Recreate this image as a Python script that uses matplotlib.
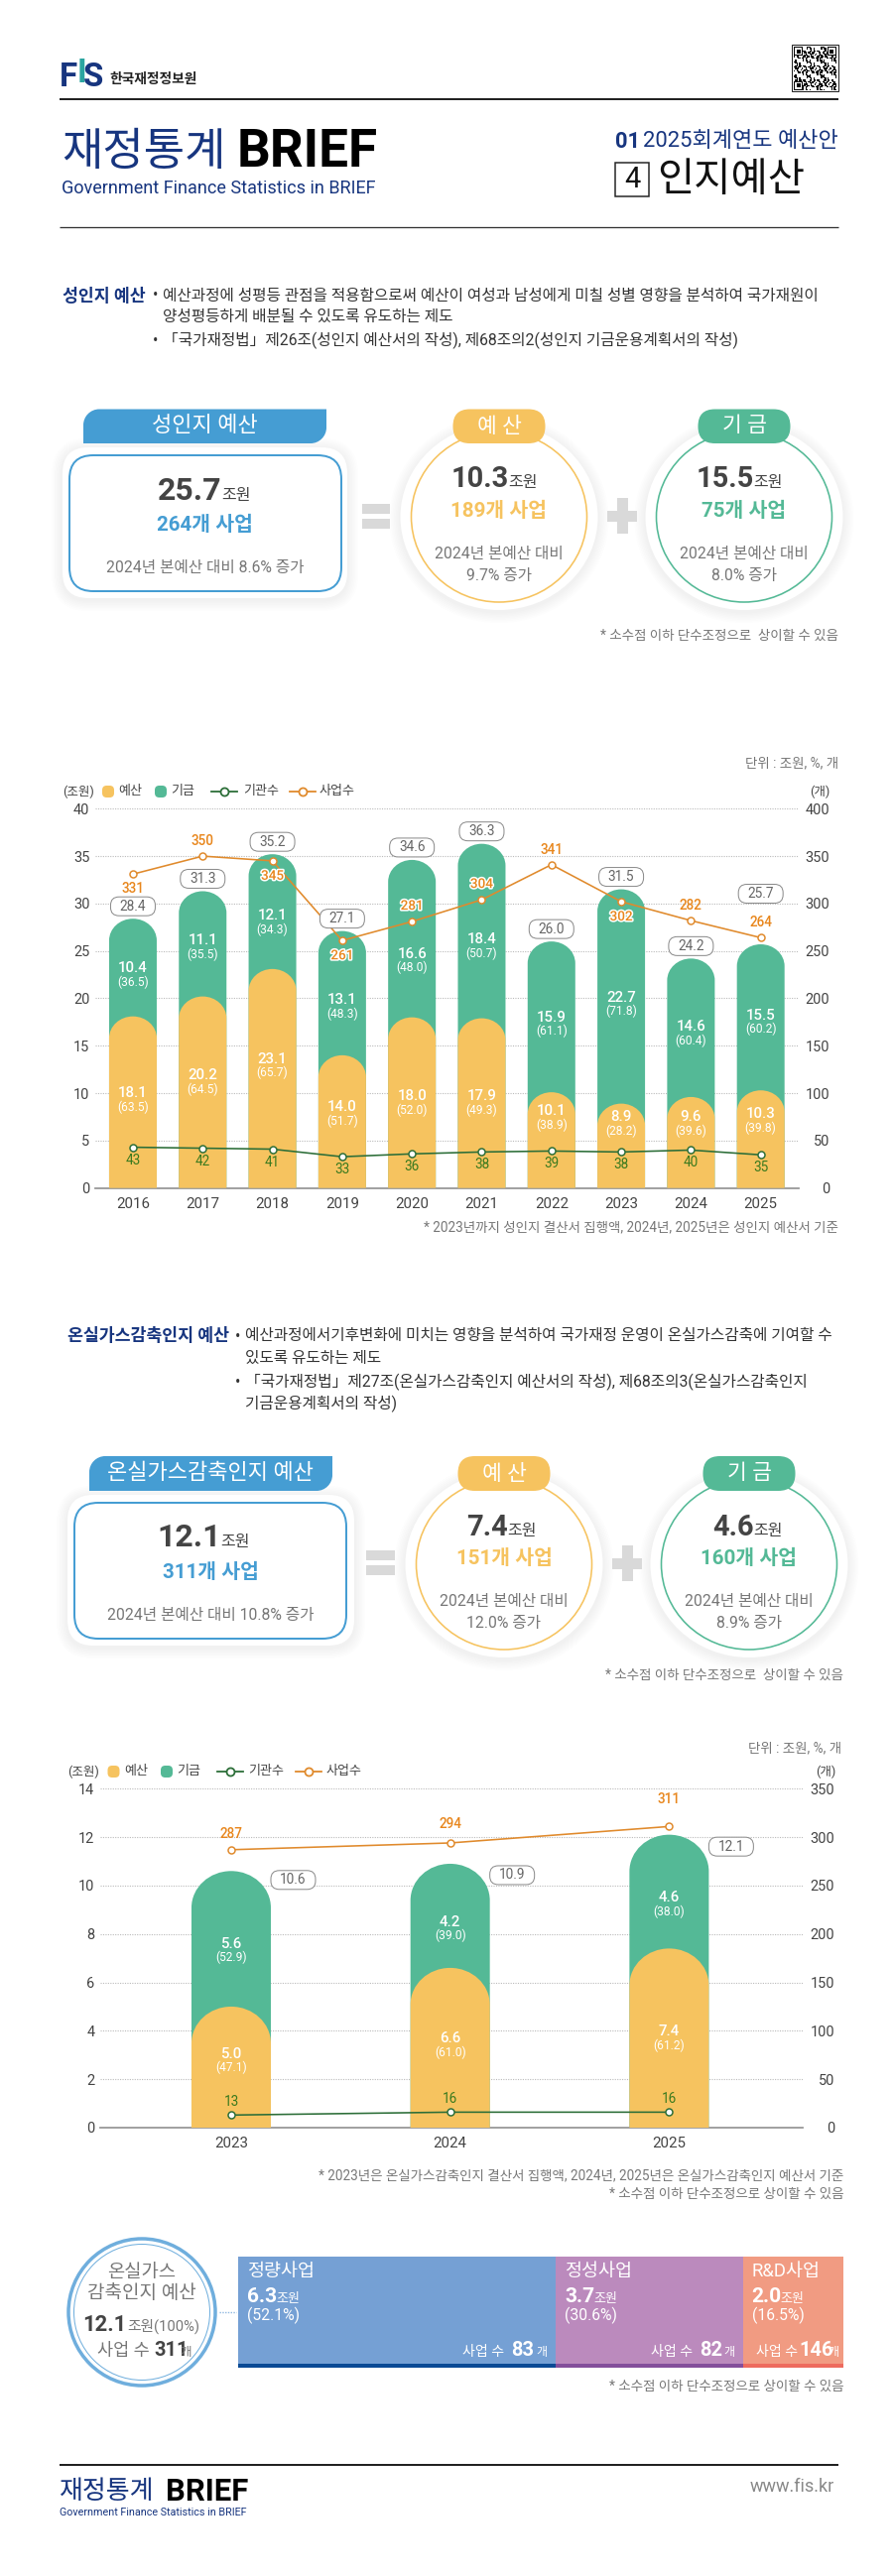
import matplotlib
matplotlib.use('Agg')
import matplotlib.pyplot as plt
import matplotlib.patheffects as pe
from matplotlib.patches import Ellipse, FancyBboxPatch, PathPatch, Rectangle
from matplotlib.path import Path
import numpy as np

plt.rcParams['font.family'] = ['Roboto', 'Noto Sans CJK KR', 'DejaVu Sans']

# 성인지 예산 차트
years_a = ['2016', '2017', '2018', '2019', '2020', '2021', '2022', '2023', '2024', '2025']
budget_a = [18.1, 20.2, 23.1, 14.0, 18.0, 17.9, 10.1, 8.9, 9.6, 10.3]
fund_a = [10.4, 11.1, 12.1, 13.1, 16.6, 18.4, 15.9, 22.7, 14.6, 15.5]
total_a = [28.4, 31.3, 35.2, 27.1, 34.6, 36.3, 26.0, 31.5, 24.2, 25.7]
budget_pct_a = [63.5, 64.5, 65.7, 51.7, 52.0, 49.3, 38.9, 28.2, 39.6, 39.8]
fund_pct_a = [36.5, 35.5, 34.3, 48.3, 48.0, 50.7, 61.1, 71.8, 60.4, 60.2]
agency_a = [43, 42, 41, 33, 36, 38, 39, 38, 40, 35]
project_a = [331, 350, 345, 261, 281, 304, 341, 302, 282, 264]

# 온실가스감축인지 예산 차트
years_b = ['2023', '2024', '2025']
budget_b = [5.0, 6.6, 7.4]
fund_b = [5.6, 4.2, 4.6]
total_b = [10.6, 10.9, 12.1]
budget_pct_b = [47.1, 61.0, 61.2]
fund_pct_b = [52.9, 39.0, 38.0]
agency_b = [13, 16, 16]
project_b = [287, 294, 311]

# 사업 유형별 구성
split_names = ['정량사업', '정성사업', 'R&D사업']
split_amount = [6.3, 3.7, 2.0]
split_pct = [52.1, 30.6, 16.5]
split_projects = [83, 82, 146]

# 라벨 위치 (데이터 단위, 픽셀 오프셋)
budget_label_a = [10.0, 11.9, 13.6, 8.5, 9.7, 9.7, 8.1, 7.5, 7.5, 7.8]
fund_label_a = [23.2, 26.1, 28.7, 19.8, 24.7, 26.2, 18.0, 20.1, 17.0, 18.2]
project_off_a = [-15, 15, -15, -15, 16, 16, 15, -15, 15, 15]
project_halo_a = [False, False, True, True, True, True, False, True, False, False]
pill_off_a = [(0, -12.5)] * 9 + [(0, -51)]
budget_label_b = [3.04, 3.69, 3.97]
fund_label_b = [7.6, 8.5, 9.5]
project_off_b = [16, 19, 27]
pill_off_b = [(62.5, 9), (62.5, 11.5), (62.5, 12)]

W, H = 900, 2597
YELLOW = '#F6C35F'
GREEN = '#54B996'
BLUE = '#459DD3'
ORANGE = '#E08A2C'
ORANGE_TXT = '#E8861C'
DGREEN = '#2C6E38'
DGREEN_TXT = '#3B7A1E'
NAVY = '#17357F'
DARK = '#444444'
GREY = '#777777'


def fs(px):
    return px * 0.72


fig = plt.figure(figsize=(W / 100, H / 100), dpi=100, facecolor='white')
page = fig.add_axes([0, 0, 1, 1], zorder=0)
top = fig.add_axes([0, 0, 1, 1], zorder=10)
for a in (page, top):
    a.set_xlim(0, W)
    a.set_ylim(H, 0)
    a.axis('off')
    a.patch.set_alpha(0)


def txt(x, y, s, size, color=DARK, ha='left', va='center', weight='normal', ax=top, **kw):
    return ax.text(x, y, s, fontsize=fs(size), color=color, ha=ha, va=va, fontweight=weight, **kw)


def to_px(ax, x, y):
    return top.transData.inverted().transform(ax.transData.transform((x, y)))


def hline(x0, x1, y, color, lw):
    page.plot([x0, x1], [y, y], color=color, lw=lw * 0.72, solid_capstyle='butt')


def soft_shadow(make, n=7):
    for i in range(n, 0, -1):
        page.add_patch(make(i * 1.6, dict(fc='#000000', ec='none', alpha=0.007)))


def tab(x0, y0, x1, y1, r, color):
    # 왼쪽 위, 오른쪽 아래만 둥근 라벨
    k = r * 0.45
    verts = [(x0, y1), (x0, y0 + r), (x0, y0 + k), (x0 + k, y0), (x0 + r, y0), (x1, y0), (x1, y1 - r),
             (x1, y1 - k), (x1 - k, y1), (x1 - r, y1), (x0, y1)]
    codes = [Path.MOVETO, Path.LINETO, Path.CURVE4, Path.CURVE4, Path.CURVE4, Path.LINETO, Path.LINETO,
             Path.CURVE4, Path.CURVE4, Path.CURVE4, Path.CLOSEPOLY]
    page.add_patch(PathPatch(Path(verts, codes), fc=color, ec='none', zorder=4))


def round_box(x0, y0, x1, y1, r, **kw):
    return FancyBboxPatch((x0 + r, y0 + r), x1 - x0 - 2 * r, y1 - y0 - 2 * r,
                          boxstyle='round,pad=%f,rounding_size=%f' % (r, r), **kw)


def summary_card(box, inner, tab_box, tab_label, amount, am_x, am_base, count, count_y, line_y, note, note_y):
    def shadow(grow, st):
        return round_box(box[0] - grow, box[1] - grow + 2, box[2] + grow, box[3] + grow + 2, 26 + grow, **st)
    soft_shadow(shadow)
    page.add_patch(round_box(*box, 26, fc='white', ec='none', zorder=2))
    page.add_patch(round_box(*inner, 24, fc='white', ec=BLUE, lw=fs(2), zorder=3))
    tab(*tab_box, 16, BLUE)
    txt((tab_box[0] + tab_box[2]) / 2, (tab_box[1] + tab_box[3]) / 2, tab_label, 22, 'white', ha='center')
    txt(am_x, am_base, amount, 32, DARK, ha='right', va='baseline', weight='bold')
    txt(am_x - 1, am_base, '조원', 16, DARK, va='baseline')
    txt((inner[0] + inner[2]) / 2, count_y, count, 20.5, BLUE, ha='center', weight='bold')
    hline(inner[0] + 9, inner[2] - 9, line_y, '#AAAAAA', 1.2)
    txt((inner[0] + inner[2]) / 2, note_y, note, 15.7, GREY, ha='center')


def summary_oval(cx, cy, w, h, color, tab_y, tab_label, amount, am_x, am_base, count, count_y, line_y, notes, note_y):
    def shadow(grow, st):
        return Ellipse((cx, cy + 2), w + 22 + grow * 2, h + 16 + grow * 2, **st)
    soft_shadow(shadow)
    page.add_patch(Ellipse((cx, cy), w + 22, h + 16, fc='white', ec='none', zorder=2))
    page.add_patch(Ellipse((cx, cy), w, h, fc='white', ec=color, lw=fs(1.6), zorder=3))
    page.add_patch(round_box(cx - 46.5, tab_y[0], cx + 46.5, tab_y[1], 17, fc=color, ec='none', zorder=4))
    txt(cx, sum(tab_y) / 2, tab_label, 21.5, 'white', ha='center')
    txt(am_x, am_base, amount, 29, DARK, ha='right', va='baseline', weight='bold')
    txt(am_x - 1, am_base, '조원', 16, DARK, va='baseline')
    txt(cx, count_y, count, 20.5, color, ha='center', weight='bold')
    hline(cx - 70, cx + 70, line_y, '#AAAAAA', 1.2)
    for i, n in enumerate(notes):
        txt(cx, note_y[i], n, 15.7, GREY, ha='center')


def eq_plus(eq_x, eq_y, plus_c):
    c = '#D9D9D9'
    page.add_patch(Rectangle((eq_x[0], eq_y[0]), eq_x[1] - eq_x[0], 10, fc=c, ec='none'))
    page.add_patch(Rectangle((eq_x[0], eq_y[1]), eq_x[1] - eq_x[0], 10, fc=c, ec='none'))
    page.add_patch(Rectangle((plus_c[0] - 15, plus_c[1] - 5.5), 30, 11, fc=c, ec='none'))
    page.add_patch(Rectangle((plus_c[0] - 5.5, plus_c[1] - 18), 11, 36, fc=c, ec='none'))


def round_bar(ax, x, value, width, ry, color, zorder):
    x0, x1 = x - width / 2, x + width / 2
    shoulder = value - ry
    k = 0.5523
    verts = [(x0, 0), (x0, shoulder), (x0, shoulder + ry * k), (x - width / 2 * k, value), (x, value),
             (x + width / 2 * k, value), (x1, shoulder + ry * k), (x1, shoulder), (x1, 0), (x0, 0)]
    codes = [Path.MOVETO, Path.LINETO, Path.CURVE4, Path.CURVE4, Path.CURVE4,
             Path.CURVE4, Path.CURVE4, Path.CURVE4, Path.LINETO, Path.CLOSEPOLY]
    ax.add_patch(PathPatch(Path(verts, codes), fc=color, ec='none', zorder=zorder))


def pill(x, y, s):
    top.add_patch(round_box(x - 22.5, y - 9.5, x + 22.5, y + 9.5, 8.5, fc='white', ec='#8A8A8A', lw=fs(1), zorder=6))
    txt(x, y, s, 13.6, '#666666', ha='center', zorder=7)


def halo(width=2.2):
    return [pe.withStroke(linewidth=width, foreground='white')]


def legend(y, unit_x, sw, sw_txt, ln, ln_txt, right_x):
    txt(unit_x, y, '(조원)', 12.5, DARK)
    for x, tx, c, s in zip(sw, sw_txt, [YELLOW, GREEN], ['예산', '기금']):
        page.add_patch(round_box(x, y - 6, x + 12, y + 6, 4.5, fc=c, ec='none'))
        txt(tx, y, s, 13, DARK)
    for x, tx, c, s in zip(ln, ln_txt, [DGREEN, ORANGE], ['기관수', '사업수']):
        page.plot([x, x + 26], [y, y], color=c, lw=fs(1.8))
        page.plot([x + 13], [y], 'o', ms=fs(8), mfc='white', mec=c, mew=fs(1.8))
        txt(tx, y, s, 13, DARK)
    txt(right_x, y, '(개)', 12.5, DARK)


def stacked_chart(rect, years, budget, fund, total, budget_pct, fund_pct, agency, project, xlim, bar_w, ry_px,
                  ymax, ystep, y2max, y2step, budget_label, fund_label, project_off, project_halo, agency_off,
                  pill_off, r_pad):
    x0, y_top, x1, y_base = rect
    ax = fig.add_axes([x0 / W, 1 - y_base / H, (x1 - x0) / W, (y_base - y_top) / H], zorder=2)
    ax.patch.set_alpha(0)
    xs = np.arange(len(years))
    ax.set_xlim(*xlim)
    ax.set_ylim(0, ymax)
    ax.set_axisbelow(True)
    ax.grid(axis='y', color='#BBBBBB', lw=0.8, ls=(0, (1, 1.2)))
    for side in ('top', 'left', 'right'):
        ax.spines[side].set_visible(False)
    ax.spines['bottom'].set_color('#999999')
    ax.spines['bottom'].set_linewidth(1.3)
    ax.set_yticks(np.arange(0, ymax + ystep, ystep))
    ax.set_xticks(xs)
    ax.set_xticklabels(years)
    ax.tick_params(axis='x', length=0, labelsize=fs(15), labelcolor=DARK, pad=6.5)
    ax.tick_params(axis='y', length=0, labelsize=fs(14.5), labelcolor=DARK, pad=4)

    ry = ry_px / ((y_base - y_top) / ymax)
    for i in xs:
        round_bar(ax, i, total[i], bar_w, ry, GREEN, 2)
        round_bar(ax, i, budget[i], bar_w, ry, YELLOW, 3)

    ax2 = ax.twinx()
    ax2.set_zorder(3)
    ax2.patch.set_alpha(0)
    ax2.set_ylim(0, y2max)
    for side in ax2.spines:
        ax2.spines[side].set_visible(False)
    ax2.set_yticks(np.arange(0, y2max + y2step, y2step))
    ax2.tick_params(axis='y', length=0, labelsize=fs(14.5), labelcolor=DARK, pad=fs(r_pad))
    for lab in ax2.get_yticklabels():
        lab.set_ha('right')
    ax2.plot(xs, project, color=ORANGE, lw=fs(1.6), marker='o', ms=fs(7), mfc='white', mec=ORANGE, mew=fs(1.5))
    ax2.plot(xs, agency, color=DGREEN, lw=fs(1.6), marker='o', ms=fs(7), mfc='white', mec=DGREEN, mew=fs(1.5))

    for i in xs:
        px, py = to_px(ax, i, fund_label[i])
        txt(px, py, '%.1f' % fund[i], 15, 'white', ha='center', weight='medium', zorder=5)
        txt(px, py + 14, '(%.1f)' % fund_pct[i], 12, 'white', ha='center', zorder=5)
        px, py = to_px(ax, i, budget_label[i])
        txt(px, py, '%.1f' % budget[i], 15, 'white', ha='center', weight='medium', zorder=5)
        txt(px, py + 14, '(%.1f)' % budget_pct[i], 12, 'white', ha='center', zorder=5)

        px, py = to_px(ax2, i, project[i])
        t = txt(px, py - project_off[i], str(project[i]), 13.5, ORANGE_TXT, ha='center', weight='medium', zorder=8)
        if project_halo[i]:
            t.set_path_effects(halo())
        px, py = to_px(ax2, i, agency[i])
        txt(px, py + agency_off, str(agency[i]), 13.5, DGREEN_TXT, ha='center', zorder=8)

        px, py = to_px(ax, i, total[i])
        pill(px + pill_off[i][0], py + pill_off[i][1], '%.1f' % total[i])
    return ax, ax2


# 머리글
hline(60, 845, 100, '#222222', 2)
txt(60, 78, 'F', 33, NAVY, weight='bold')
txt(78, 74, 'I', 33, '#2BA5A0', weight='bold')
txt(84, 78, 'S', 33, NAVY, weight='bold')
txt(110, 80, '한국재정정보원', 13.8, '#222222', weight='bold')

qr = np.zeros((33, 33))
for i in range(33):
    for j in range(33):
        qr[i, j] = (i * i * 7 + j * j * 13 + i * j * 5) % 11 < 5
for r, c in [(0, 0), (0, 26), (26, 0)]:
    qr[r:r + 7, c:c + 7] = 1
    qr[r + 1:r + 6, c + 1:c + 6] = 0
    qr[r + 2:r + 5, c + 2:c + 5] = 1
page.imshow(qr, cmap='gray_r', extent=(800, 843, 91, 47), interpolation='nearest', aspect='auto', zorder=2)
page.set_xlim(0, W)
page.set_ylim(H, 0)
page.add_patch(Rectangle((798, 45), 47, 47, fc='none', ec='#222222', lw=fs(1)))

txt(62, 154, '재정통계', 45, NAVY)
txt(239, 154, 'BRIEF', 53, '#000000', weight='bold')
txt(62, 190, 'Government Finance Statistics in BRIEF', 18, NAVY)
txt(620, 143, '01', 22, NAVY, weight='bold')
txt(648, 143, '2025회계연도 예산안', 22, NAVY)
page.add_patch(Rectangle((620, 164), 34, 34, fc='white', ec='#222222', lw=fs(1.5)))
txt(637, 181, '4', 29, '#111111', ha='center')
txt(662, 181, '인지예산', 40.5, '#111111')
hline(60, 845, 229, '#333333', 1.3)

# 성인지 예산 설명
txt(63, 298, '성인지 예산', 17.3, NAVY, weight='bold')
txt(154, 298, '•', 15.7, '#333333')
txt(164, 298, '예산과정에 성평등 관점을 적용함으로써 예산이 여성과 남성에게 미칠 성별 영향을 분석하여 국가재원이', 15.7, '#333333')
txt(164, 319, '양성평등하게 배분될 수 있도록 유도하는 제도', 15.7, '#333333')
txt(154, 343, '•', 15.7, '#333333')
txt(164, 343, '「국가재정법」제26조(성인지 예산서의 작성), 제68조의2(성인지 기금운용계획서의 작성)', 15.7, '#333333')

summary_card((63, 451, 350, 603), (70, 459, 344, 596), (84, 412.5, 329, 447), '성인지 예산',
             '25.7', 224, 504, '264개 사업', 529, 552, '2024년 본예산 대비 8.6% 증가', 572)
summary_oval(503, 521, 177, 172, YELLOW, (412.5, 447), '예 산', '10.3', 513, 491, '189개 사업', 515, 537,
             ['2024년 본예산 대비', '9.7% 증가'], [558, 580])
summary_oval(750, 521, 177, 172, GREEN, (412.5, 447), '기 금', '15.5', 760, 491, '75개 사업', 515, 537,
             ['2024년 본예산 대비', '8.0% 증가'], [558, 580])
eq_plus((365, 393), (508, 523), (627, 520))
txt(845, 641, '* 소수점 이하 단수조정으로  상이할 수 있음', 13.5, GREY, ha='right')

# 차트 1
txt(845, 769, '단위 : 조원, %, 개', 13.5, GREY, ha='right')
legend(798, 63, (103, 156), (119, 172), (213, 292), (245, 322), 816)
stacked_chart((96, 815.3, 805, 1197.7), years_a, budget_a, fund_a, total_a, budget_pct_a, fund_pct_a, agency_a,
              project_a, (-0.54, 9.545), 48 / 70.3, 22, 40, 5, 400, 50, budget_label_a, fund_label_a,
              project_off_a, project_halo_a, 13, pill_off_a, 31)
txt(845, 1237, '* 2023년까지 성인지 결산서 집행액, 2024년, 2025년은 성인지 예산서 기준', 13.5, GREY, ha='right')

# 온실가스감축인지 예산 설명
txt(68, 1347, '온실가스감축인지 예산', 17.3, NAVY, weight='bold')
txt(237, 1347, '•', 15.7, '#333333')
txt(247, 1347, '예산과정에서기후변화에 미치는 영향을 분석하여 국가재정 운영이 온실가스감축에 기여할 수', 15.7, '#333333')
txt(247, 1369, '있도록 유도하는 제도', 15.7, '#333333')
txt(237, 1393, '•', 15.7, '#333333')
txt(247, 1393, '「국가재정법」제27조(온실가스감축인지 예산서의 작성), 제68조의3(온실가스감축인지', 15.7, '#333333')
txt(247, 1415, '기금운용계획서의 작성)', 15.7, '#333333')

summary_card((68, 1507, 357, 1659), (75, 1515, 349, 1652), (90, 1468, 335, 1503), '온실가스감축인지 예산',
             '12.1', 223, 1559, '311개 사업', 1585, 1607, '2024년 본예산 대비 10.8% 증가', 1628)
summary_oval(508, 1577, 177, 172, YELLOW, (1468, 1503), '예 산', '7.4', 512, 1548, '151개 사업', 1571, 1593,
             ['2024년 본예산 대비', '12.0% 증가'], [1615, 1636])
summary_oval(755, 1577, 177, 172, GREEN, (1468, 1503), '기 금', '4.6', 760, 1548, '160개 사업', 1571, 1593,
             ['2024년 본예산 대비', '8.9% 증가'], [1615, 1636])
eq_plus((369, 398), (1563, 1578), (632, 1576))
txt(850, 1689, '* 소수점 이하 단수조정으로  상이할 수 있음', 13.5, GREY, ha='right')

# 차트 2
txt(848, 1762, '단위 : 조원, %, 개', 13.5, GREY, ha='right')
legend(1786, 68, (108.5, 162), (125, 178), (219, 298), (250, 329), 822)
stacked_chart((101, 1803.3, 809, 2145), years_b, budget_b, fund_b, total_b, budget_pct_b, fund_pct_b, agency_b,
              project_b, (-0.598, 2.61), 80 / 220.7, 37, 14, 2, 350, 50, budget_label_b, fund_label_b,
              project_off_b, [False] * 3, -13, pill_off_b, 32)
txt(850, 2193, '* 2023년은 온실가스감축인지 결산서 집행액, 2024년, 2025년은 온실가스감축인지 예산서 기준', 13.5, GREY, ha='right')
txt(850, 2212, '* 소수점 이하 단수조정으로 상이할 수 있음', 13.5, GREY, ha='right')

# 구성 막대
ring = Ellipse((143, 2331), 148, 148, fc='white', ec='#6FAEDD', lw=fs(3.5), zorder=3)
page.add_patch(ring)
page.add_patch(Ellipse((143, 2331), 137, 137, fc='white', ec='#6FAEDD', lw=fs(1), zorder=3))
txt(143, 2291, '온실가스', 18.8, GREY, ha='center')
txt(143, 2312, '감축인지 예산', 19, GREY, ha='center')
txt(127, 2350, '12.1', 22, DARK, ha='right', va='baseline', weight='bold')
txt(128, 2350, '조원(100%)', 14.7, GREY, va='baseline')
txt(98, 2375, '사업 수', 17.5, GREY, va='baseline')
txt(155, 2375, '311', 20, DARK, va='baseline', weight='bold')
txt(181, 2375, '개', 12.5, GREY, va='baseline')
page.plot([221, 238], [2331, 2331], color='#8FB8E0', lw=1, ls=(0, (1, 1)))

split_colors = ['#75A0D4', '#BB8ABD', '#F19B82']
stripe_colors = ['#0B4A94', '#844F9B', '#EE6B5E']
sp = fig.add_axes([240 / W, 1 - 2387 / H, 610 / W, 112 / H], zorder=2)
sp.axis('off')
sp.set_xlim(0, sum(split_pct))
sp.set_ylim(0, 112)
left = 0
count_x = [(466, 515, 540), (656, 705, 729), (762, 805, 834)]
for i in range(3):
    sp.barh(58, split_pct[i], height=108, left=left, color=split_colors[i], linewidth=0)
    sp.barh(2, split_pct[i], height=4, left=left, color=stripe_colors[i], linewidth=0)
    px = to_px(sp, left, 0)[0] + 9
    txt(px, 2290, split_names[i], 18.5, 'white')
    txt(px, 2321, '%.1f' % split_amount[i], 21, 'white', va='baseline', weight='bold')
    txt(px + 29, 2321, '조원', 13, 'white', va='baseline')
    txt(px, 2334, '(%.1f%%)' % split_pct[i], 15.7, 'white')
    txt(count_x[i][0], 2375, '사업 수', 14, 'white', va='baseline')
    txt(count_x[i][1], 2375, str(split_projects[i]), 20, 'white', va='baseline', weight='bold')
    txt(count_x[i][2], 2375, '개', 12, 'white', va='baseline')
    left += split_pct[i]
txt(850, 2406, '* 소수점 이하 단수조정으로 상이할 수 있음', 13.5, GREY, ha='right')

# 바닥글
hline(60, 845, 2485, '#222222', 2)
txt(60, 2512, '재정통계', 26, NAVY)
txt(167, 2512, 'BRIEF', 31, '#000000', weight='bold')
txt(60, 2533, 'Government Finance Statistics in BRIEF', 10.8, NAVY)
txt(841, 2507, 'www.fis.kr', 18, '#888888', ha='right')

fig.savefig('out.png', dpi=100)
